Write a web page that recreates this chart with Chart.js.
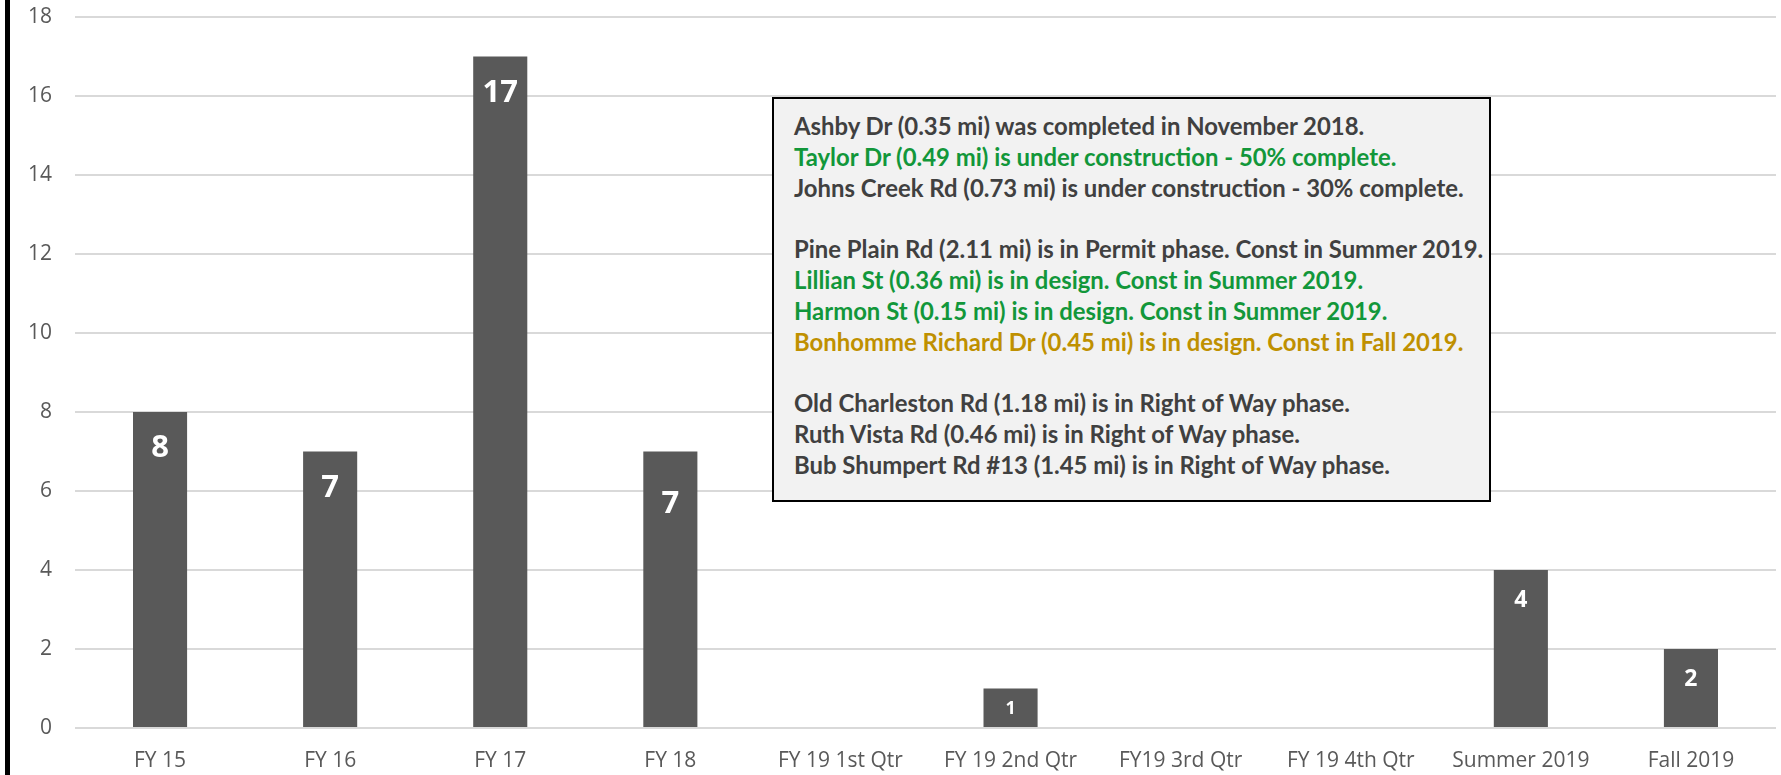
<!DOCTYPE html>
<html>
<head>
<meta charset="utf-8">
<script src="https://cdn.jsdelivr.net/npm/chart.js@4"></script>
<style>
  body { margin: 0; background: #fff; overflow: hidden; }
  #wrap { position: relative; width: 1781px; height: 775px; }
  #edge { position: absolute; left: 5px; top: 0; width: 5px; height: 775px; background: #000; }
  #note {
    position: absolute; left: 772px; top: 97px; width: 719px; height: 405px;
    box-sizing: border-box; border: 2px solid #000; background: #f2f2f2;
    padding: 12px 0 0 20px; font-family: Lato, sans-serif; font-weight: 700;
    font-size: 20px; line-height: 30.8px; white-space: nowrap;
  }
</style>
</head>
<body>
<div id="wrap">
  <canvas id="roadChart"></canvas>
  <div id="edge"></div>
  <div id="note"></div>
</div>
<script>
const categories = ['FY 15', 'FY 16', 'FY 17', 'FY 18', 'FY 19 1st Qtr', 'FY 19 2nd Qtr', 'FY19 3rd Qtr', 'FY 19 4th Qtr', 'Summer 2019', 'Fall 2019'];
const roadCounts = [8, 7, 17, 7, 0, 1, 0, 0, 4, 2];
const yMax = 18;
const yStep = 2;

// notes box: text + colour per line ('' = blank line)
const noteLines = [
    'Ashby Dr (0.35 mi) was completed in November 2018.',
    'Taylor Dr (0.49 mi) is under construction - 50% complete.',
    'Johns Creek Rd (0.73 mi) is under construction - 30% complete.',
    '',
    'Pine Plain Rd (2.11 mi) is in Permit phase. Const in Summer 2019.',
    'Lillian St (0.36 mi) is in design. Const in Summer 2019.',
    'Harmon St (0.15 mi) is in design. Const in Summer 2019.',
    'Bonhomme Richard Dr (0.45 mi) is in design. Const in Fall 2019.',
    '',
    'Old Charleston Rd (1.18 mi) is in Right of Way phase.',
    'Ruth Vista Rd (0.46 mi) is in Right of Way phase.',
    'Bub Shumpert Rd #13 (1.45 mi) is in Right of Way phase.'
];
const noteColors = ['#404040', '#12973a', '#404040', '', '#404040', '#12973a', '#12973a', '#bf9000', '', '#404040', '#404040', '#404040'];

function buildNote() {
    const box = document.getElementById('note');
    // fit font so the longest line is ~690px wide like the original
    const ctx = document.createElement('canvas').getContext('2d');
    ctx.font = '700 20px Lato';
    let widest = 0;
    noteLines.forEach(l => widest = Math.max(widest, ctx.measureText(l).width));
    const size = 20 * 690 / widest;
    box.style.fontSize = size.toFixed(2) + 'px';
    box.innerHTML = noteLines.map((l, i) =>
        `<div style="color:${noteColors[i] || '#404040'}">${l || '&nbsp;'}</div>`).join('');
}

const barLabels = {
    id: 'barLabels',
    afterDatasetsDraw(chart) {
        const ctx = chart.ctx;
        const meta = chart.getDatasetMeta(0);
        ctx.save();
        ctx.fillStyle = '#ffffff';
        ctx.textAlign = 'center';
        ctx.textBaseline = 'alphabetic';
        meta.data.forEach((bar, i) => {
            const v = roadCounts[i];
            if (!v) return;
            let size = 31, offset = 34;
            if (v < 7) { size = 23; offset = 29; }
            if (v < 2) { size = 18; offset = (bar.base - bar.y) / 2; }
            if (i === 3) offset = 50; // FY 18 label sits lower in the original
            ctx.font = 'bold ' + size + 'px "Open Sans"';
            ctx.fillText(String(v), bar.x, bar.y + offset + size * 0.357);
        });
        ctx.restore();
    }
};

let myChart;

function initChart() {
    const ctx = document.getElementById('roadChart').getContext('2d');
    myChart = new Chart(ctx, {
        type: 'bar',
        data: {
            labels: categories,
            datasets: [{
                data: roadCounts,
                backgroundColor: '#595959',
                borderWidth: 0,
                categoryPercentage: 1,
                barPercentage: 0.318
            }]
        },
        options: {
            responsive: true,
            maintainAspectRatio: false,
            animation: false,
            layout: { padding: { top: 17, right: 5, left: 0, bottom: 0 } },
            plugins: { legend: { display: false }, tooltip: { enabled: false } },
            scales: {
                x: {
                    grid: { display: false },
                    border: { display: false },
                    ticks: { color: '#595959', font: { family: 'Open Sans', size: 21 }, padding: 12, maxRotation: 0, autoSkip: false },
                    afterFit: s => { s.height = 47; }
                },
                y: {
                    min: 0,
                    max: yMax,
                    grid: { color: '#d9d9d9', lineWidth: 2, drawTicks: false },
                    border: { display: false },
                    ticks: { stepSize: yStep, color: '#595959', font: { family: 'Open Sans', size: 21 }, padding: 23 },
                    afterFit: s => { s.width = 75; s.paddingTop = 0; s.paddingBottom = 0; }
                }
            }
        },
        plugins: [barLabels]
    });
}

window.onload = () => {
    buildNote();
    initChart();
};
</script>
</body>
</html>
